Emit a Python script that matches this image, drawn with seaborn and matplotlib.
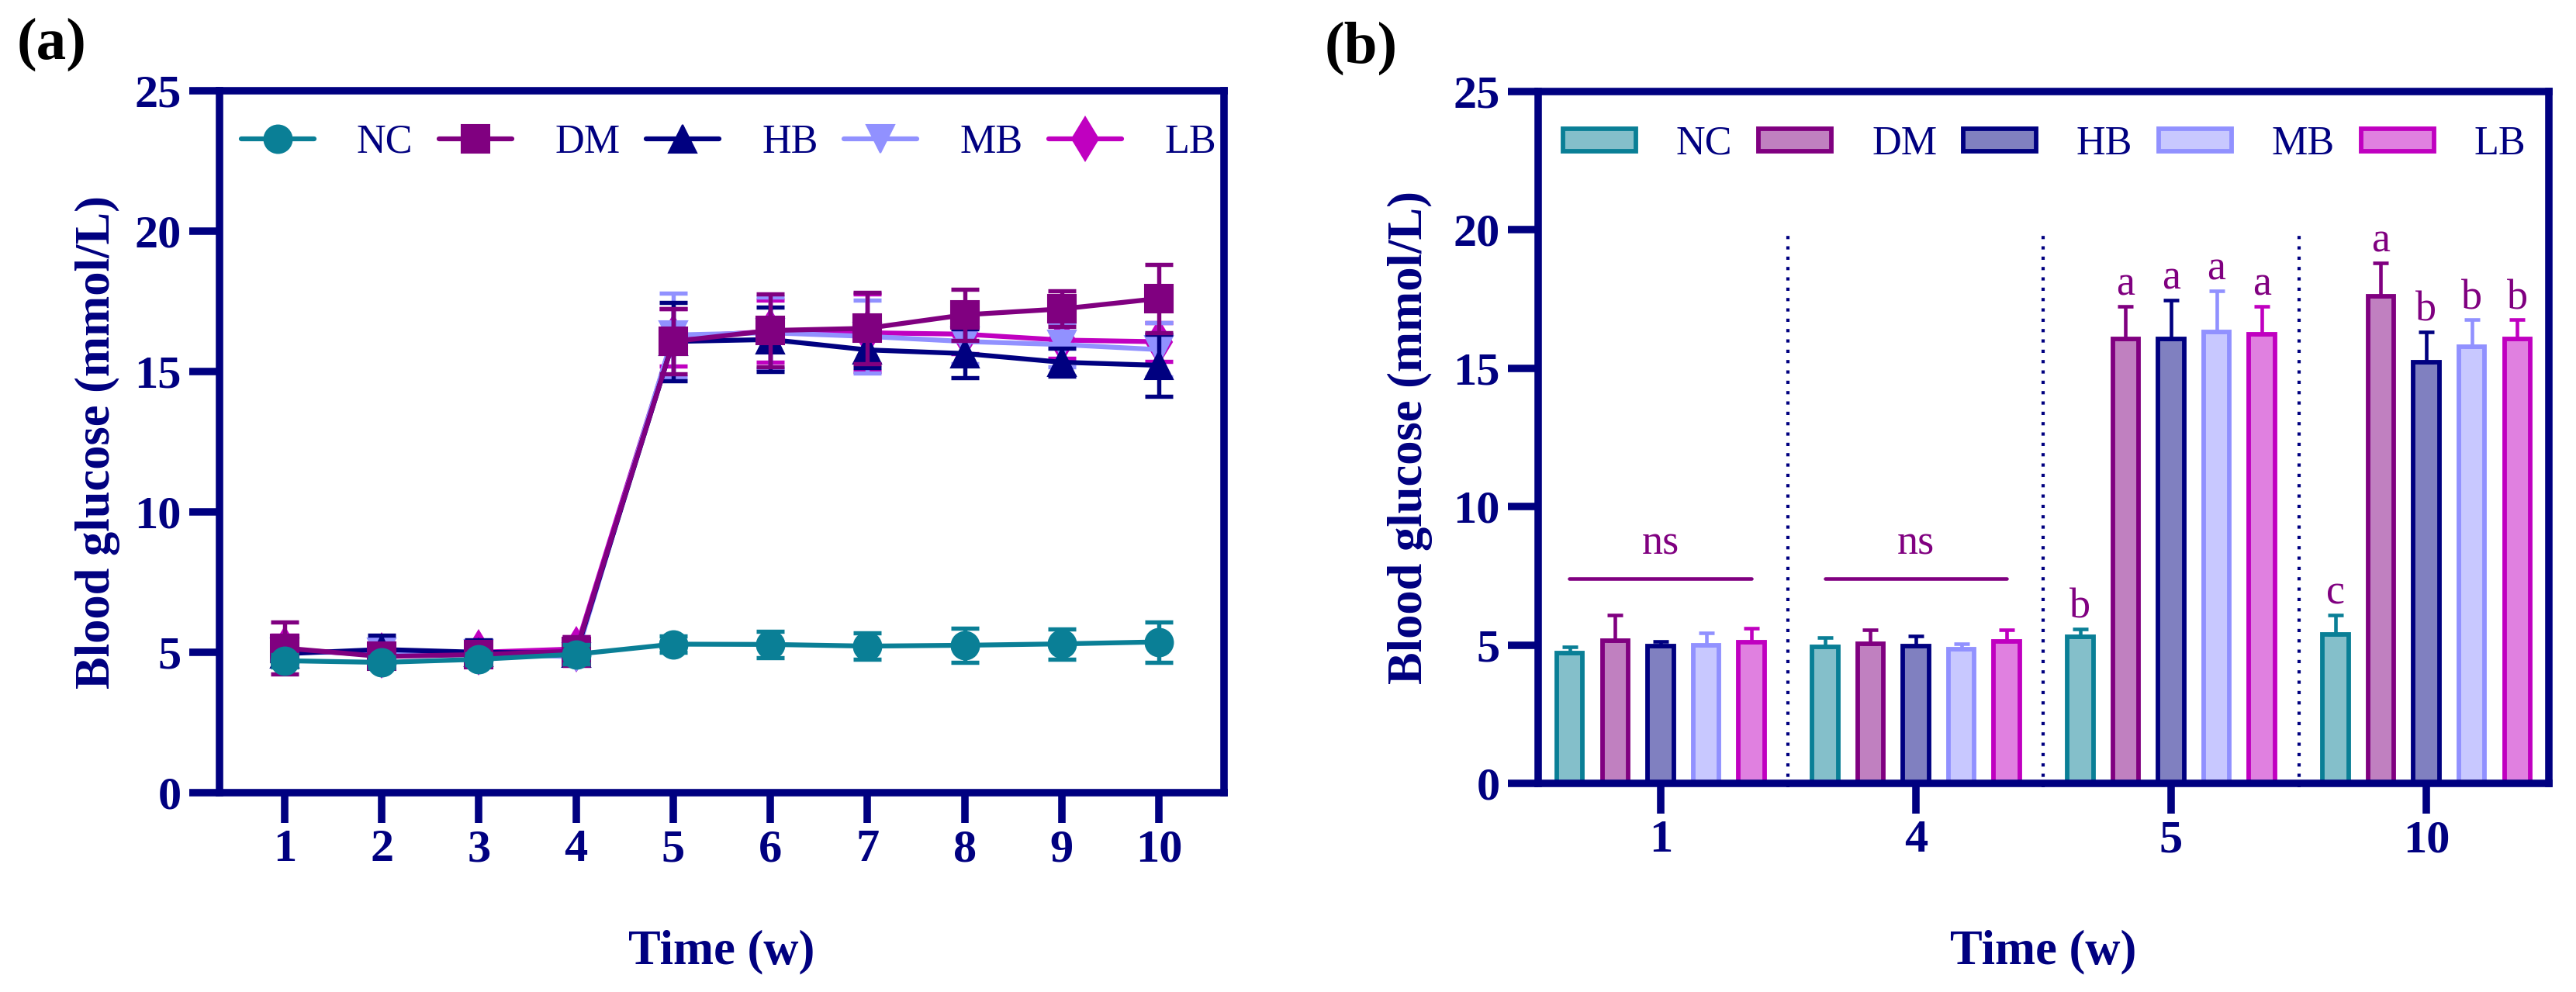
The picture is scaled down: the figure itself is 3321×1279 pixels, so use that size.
import numpy as np
import pandas as pd
import matplotlib
matplotlib.use("Agg")
import matplotlib.pyplot as plt
import seaborn as sns

# blood glucose (mmol/L), mean and SD per group and week
groups = ["NC", "DM", "HB", "MB", "LB"]
weeks = [1, 2, 3, 4, 5, 6, 7, 8, 9, 10]

nc_mean = [4.70, 4.64, 4.75, 4.93, 5.29, 5.28, 5.22, 5.25, 5.30, 5.37]
dm_mean = [5.15, 4.85, 4.92, 5.04, 16.07, 16.46, 16.54, 17.02, 17.23, 17.60]
hb_mean = [4.95, 5.10, 5.00, 4.97, 16.07, 16.14, 15.77, 15.64, 15.33, 15.22]
mb_mean = [5.00, 5.00, 4.95, 4.84, 16.30, 16.38, 16.25, 16.07, 15.96, 15.78]
lb_mean = [5.10, 4.90, 5.00, 5.12, 16.22, 16.43, 16.38, 16.33, 16.12, 16.06]

nc_sd = [0.22, 0.20, 0.20, 0.35, 0.30, 0.46, 0.47, 0.62, 0.54, 0.72]
dm_sd = [0.93, 0.25, 0.25, 0.50, 1.16, 1.30, 1.27, 0.92, 0.63, 1.22]
hb_sd = [0.18, 0.50, 0.45, 0.35, 1.39, 1.14, 0.63, 0.87, 0.50, 1.10]
mb_sd = [0.45, 0.30, 0.30, 0.20, 1.49, 1.27, 1.30, 0.80, 0.79, 0.97]
lb_sd = [0.50, 0.30, 0.30, 0.44, 1.02, 1.10, 1.38, 0.70, 0.65, 0.69]

# panel (b) shows these weeks only
bar_weeks = [1, 4, 5, 10]
letters = [
    ["", "", "", "", ""],
    ["", "", "", "", ""],
    ["b", "a", "a", "a", "a"],
    ["c", "a", "b", "b", "b"],
]
ns_weeks = [1, 4]
ns_level = 7.4

means = dict(zip(groups, [nc_mean, dm_mean, hb_mean, mb_mean, lb_mean]))
sds = dict(zip(groups, [nc_sd, dm_sd, hb_sd, mb_sd, lb_sd]))

line_colors = {"NC": "#0a7f96", "DM": "#800080", "HB": "#000080",
               "MB": "#9191ff", "LB": "#c000c0"}
fill_colors = {"NC": "#84bfca", "DM": "#c080c0", "HB": "#8080c0",
               "MB": "#c8c8ff", "LB": "#e080e0"}
markers = {"NC": "o", "DM": "s", "HB": "^", "MB": "v", "LB": "d"}
navy = "#000080"
purple = "#800080"

sns.set_style("ticks")
plt.rcParams["font.family"] = ["Liberation Serif", "DejaVu Serif"]
plt.rcParams["font.weight"] = "bold"
plt.rcParams["axes.labelweight"] = "bold"
plt.rcParams["axes.labelsize"] = 15
plt.rcParams["xtick.labelsize"] = 14.5
plt.rcParams["ytick.labelsize"] = 14.5
for key in ["axes.edgecolor", "axes.labelcolor", "xtick.color", "ytick.color", "text.color"]:
    plt.rcParams[key] = navy
plt.rcParams["axes.linewidth"] = 2.3

W, H = 3321, 1279
fig = plt.figure(figsize=(W / 300, H / 300), dpi=300)
ax1 = fig.add_axes([283 / W, 257 / H, 1295 / W, 905 / H])
ax2 = fig.add_axes([1983 / W, 269 / H, 1303 / W, 892 / H])

# (a) time course
for gi in range(len(groups) - 1, -1, -1):
    g = groups[gi]
    c = line_colors[g]
    z = 6 - gi
    ax1.errorbar(weeks, means[g], yerr=sds[g], fmt="none", ecolor=c,
                 elinewidth=1.3, capsize=4.4, capthick=1.3, zorder=z)
    ms = 9.5 if markers[g] == "d" else 8.6
    sns.lineplot(x=weeks, y=means[g], ax=ax1, color=c, marker=markers[g],
                 markersize=ms, markeredgecolor=c, markeredgewidth=0.5,
                 linewidth=1.5, label=g, zorder=z)

handles, labels = ax1.get_legend_handles_labels()
hmap = dict(zip(labels, handles))
ax1.legend([hmap[g] for g in groups], groups, loc="center left",
           bbox_to_anchor=(0.0216, 0.926), ncol=5, frameon=False,
           handlelength=1.8, handletextpad=1.06, columnspacing=0.65,
           borderpad=0, borderaxespad=0,
           prop={"size": 12.5, "weight": "normal"}, labelcolor=navy)

ax1.set_xlim(0.33, 10.67)
ax1.set_ylim(0, 25)
ax1.set_xticks(weeks)
ax1.set_yticks([0, 5, 10, 15, 20, 25])
ax1.set_xlabel("Time (w)")
ax1.set_ylabel("Blood glucose (mmol/L)")
ax1.xaxis.set_label_coords(0.5, -0.195)
ax1.yaxis.set_label_coords(-0.099, 0.5)

# (b) selected weeks as bars
rows = []
for w in bar_weeks:
    for g in groups:
        rows.append({"week": str(w), "group": g, "glucose": means[g][weeks.index(w)]})
df_b = pd.DataFrame(rows)

sns.barplot(data=df_b, x="week", y="glucose", hue="group",
            order=[str(w) for w in bar_weeks], hue_order=groups,
            palette=fill_colors, saturation=1, width=0.89, gap=0.43,
            errorbar=None, linewidth=1.4, legend=False, ax=ax2)
bar_sets = list(ax2.containers)

for gi, (g, cont) in enumerate(zip(groups, bar_sets)):
    c = line_colors[g]
    xs, ys, es = [], [], []
    for wi, p in enumerate(cont.patches):
        p.set_edgecolor(c)
        p.set_linewidth(1.4)
        w = bar_weeks[wi]
        xs.append(p.get_x() + p.get_width() / 2)
        ys.append(means[g][weeks.index(w)])
        es.append(sds[g][weeks.index(w)])
    ax2.errorbar(xs, ys, yerr=[np.zeros(len(es)), es], fmt="none", ecolor=c,
                 elinewidth=1.1, capsize=2.5, capthick=1.1, zorder=1)
    for wi in range(len(bar_weeks)):
        lt = letters[wi][gi]
        if lt:
            ax2.text(xs[wi], ys[wi] + es[wi] + 0.4, lt, ha="center", va="baseline",
                     color=purple, fontsize=13, fontweight="normal")

for w in ns_weeks:
    i = bar_weeks.index(w)
    ax2.plot([i - 0.357, i + 0.357], [ns_level, ns_level], color=purple, lw=1.1)
    ax2.text(i, ns_level + 0.87, "ns", ha="center", va="baseline",
             color=purple, fontsize=13, fontweight="normal")

for i in range(len(bar_weeks) - 1):
    ax2.plot([i + 0.5, i + 0.5], [-0.15, 19.8], color=navy, lw=1.0,
             ls=(0, (1, 2.2)), clip_on=False, zorder=0.5)

ax2.legend([cont.patches[0] for cont in bar_sets], groups,
           loc="center left", bbox_to_anchor=(0.0246, 0.924), ncol=5,
           frameon=False, handlelength=1.8, handleheight=0.48,
           handletextpad=1.0, columnspacing=0.65, borderpad=0,
           borderaxespad=0, prop={"size": 12.5, "weight": "normal"},
           labelcolor=navy)

ax2.set_xlim(-0.48, 3.48)
ax2.set_ylim(0, 25)
ax2.set_yticks([0, 5, 10, 15, 20, 25])
ax2.set_xlabel("Time (w)")
ax2.set_ylabel("Blood glucose (mmol/L)")
ax2.xaxis.set_label_coords(0.5, -0.211)
ax2.yaxis.set_label_coords(-0.104, 0.5)

for ax in [ax1, ax2]:
    for s in ax.spines.values():
        s.set_visible(True)
        s.set_linewidth(2.3)
        s.set_color(navy)
    ax.tick_params(axis="both", width=2.3, length=9.3, color=navy)
    ax.tick_params(axis="y", pad=2.5)
    ax.tick_params(axis="x", pad=2)

fig.text(22 / W, 1 - 57 / H, "(a)", ha="left", va="center", fontsize=18.5,
         fontweight="bold", color="black")
fig.text(1708 / W, 1 - 62 / H, "(b)", ha="left", va="center", fontsize=18.5,
         fontweight="bold", color="black")

fig.savefig("out.png", dpi=300)
